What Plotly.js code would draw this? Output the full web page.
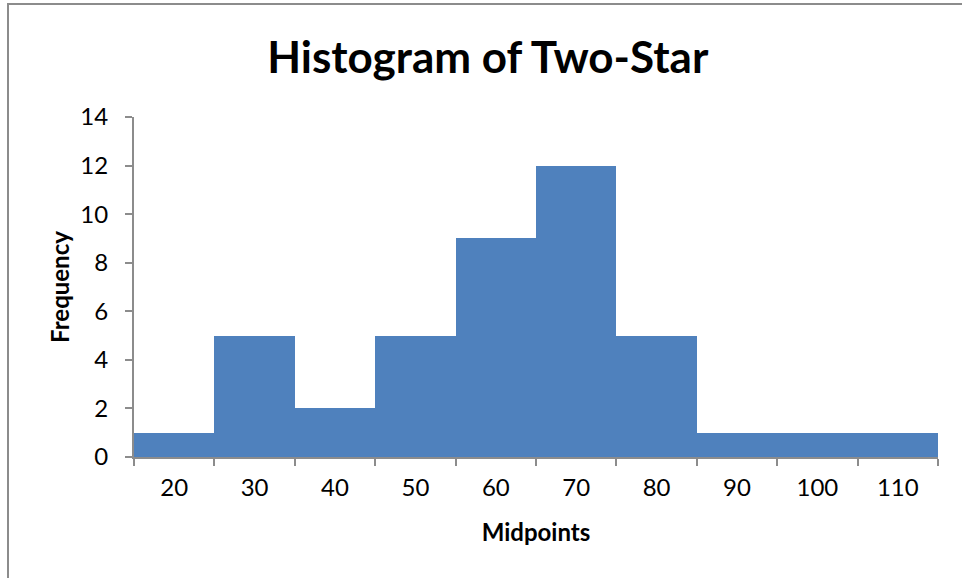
<!DOCTYPE html>
<html>
<head>
<meta charset="utf-8">
<script src="https://cdn.plot.ly/plotly-3.0.1.min.js"></script>
<style>
html,body{margin:0;padding:0;overflow:hidden;background:#fff;}
#wrap{position:relative;width:962px;height:578px;}
#frame{position:absolute;left:7px;top:3px;width:1000px;height:1000px;border:2px solid #8c8c8c;box-sizing:border-box;pointer-events:none;}
</style>
</head>
<body>
<div id="wrap"><div id="chart" style="width:962px;height:578px;"></div><div id="frame"></div></div>
<script>
const midpoints = ["20","30","40","50","60","70","80","90","100","110"];
const frequency = [1,5,2,5,9,12,5,1,1,1];
const yTicks = [0,2,4,6,8,10,12,14];

const fontFam = "Lato, 'Open Sans', sans-serif";
Plotly.newPlot('chart', [{
  type: 'bar',
  x: midpoints,
  y: frequency,
  marker: {color: '#4F81BD', line: {width: 0}},
  hoverinfo: 'x+y'
}], {
  width: 962, height: 578,
  margin: {l: 134, r: 24, t: 117, b: 121},
  paper_bgcolor: '#fff', plot_bgcolor: '#fff',
  bargap: 0,
  showlegend: false,
  font: {family: fontFam, color: '#000', size: 24},
  title: {text: '<b>Histogram of Two-Star</b>', font: {family: fontFam, size: 44, color: '#000'}, x: 0.507, xanchor: 'center', xref: 'container', y: 0.9, yanchor: 'middle'},
  xaxis: {
    type: 'category',
    tickson: 'boundaries',
    ticks: 'outside', ticklen: 7, tickwidth: 2, tickcolor: '#8c8c8c',
    showline: true, linecolor: '#8c8c8c', linewidth: 2,
    showgrid: false, zeroline: false,
    tickfont: {size: 24, family: fontFam},
    ticklabelstandoff: 8,
    title: {text: '<b>Midpoints</b>', font: {size: 24, family: fontFam}, standoff: 24}
  },
  yaxis: {
    range: [0, 14],
    tickvals: yTicks,
    ticks: 'outside', ticklen: 7, tickwidth: 2, tickcolor: '#8c8c8c',
    showline: true, linecolor: '#8c8c8c', linewidth: 2,
    showgrid: false, zeroline: false,
    tickfont: {size: 24, family: fontFam},
    ticklabelstandoff: 12,
    title: {text: '<b>Frequency</b>', font: {size: 24, family: fontFam}, standoff: 4}
  }
}, {displayModeBar: false, staticPlot: true});
</script>
</body>
</html>
